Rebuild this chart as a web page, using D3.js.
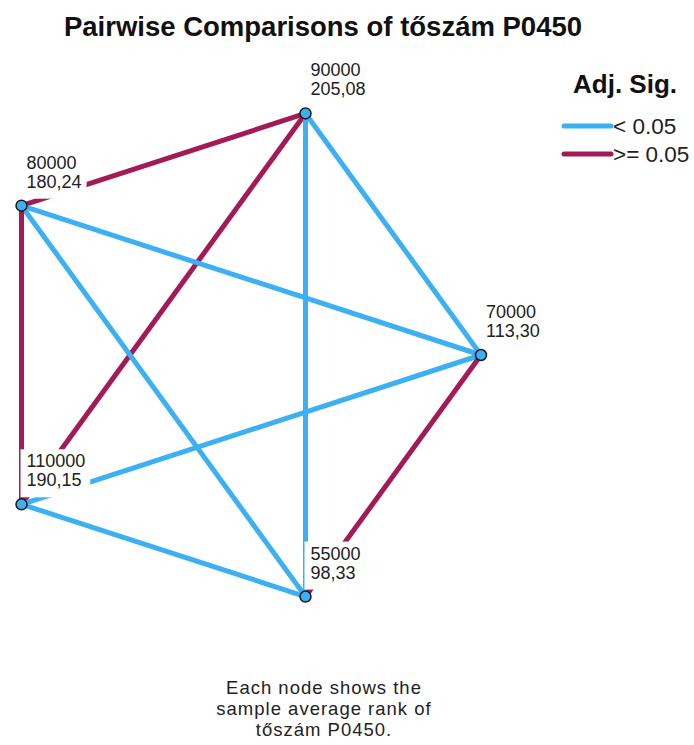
<!DOCTYPE html>
<html>
<head>
<meta charset="utf-8">
<script src="https://cdn.jsdelivr.net/npm/d3@7"></script>
<style>
  body { margin: 0; background: #fff; }
  svg { display: block; font-family: "Liberation Sans", Arial, sans-serif; }
</style>
</head>
<body>
<div id="chart"></div>
<script>
// nodes in drawing order around the pentagon, starting at the right, going counter-clockwise
const nodeNames = ["70000", "90000", "80000", "110000", "55000"];
const nodeRanks = ["113,30", "205,08", "180,24", "190,15", "98,33"];

// pairwise comparisons: [from, to, significant (adj. p < 0.05)]
const edgeFrom = ["80000", "90000", "90000", "90000", "80000", "80000", "80000", "110000", "110000", "70000"];
const edgeTo   = ["90000", "110000", "70000", "55000", "70000", "55000", "110000", "70000", "55000", "55000"];
const edgeSig  = [false, false, true, true, true, true, false, true, true, false];

const legendLabels = ["< 0.05", ">= 0.05"];
const footnote = ["Each node shows the", "sample average rank of", "tőszám P0450."];

const width = 694;
const height = 745;
const blue = "#3cb0f2";
const red = "#a31a55";

const svg = d3.select("#chart").append("svg")
  .attr("width", width)
  .attr("height", height);

// layout on the unit circle, mapped to pixels
const angle = d3.scaleLinear().domain([0, nodeNames.length]).range([0, 2 * Math.PI]);
const xScale = d3.scaleLinear().domain([-1, 1]).range([-27, 481]);
const yScale = d3.scaleLinear().domain([-1, 1]).range([609, 101]);

const nodes = nodeNames.map((name, i) => ({
  name,
  rank: nodeRanks[i],
  x: xScale(Math.cos(angle(i))),
  y: yScale(Math.sin(angle(i)))
}));
const byName = new Map(nodes.map((d) => [d.name, d]));

const edges = edgeFrom.map((f, i) => ({
  source: byName.get(f),
  target: byName.get(edgeTo[i]),
  sig: edgeSig[i]
}));

svg.append("text")
  .attr("x", 323)
  .attr("y", 36)
  .attr("text-anchor", "middle")
  .attr("font-size", 27.5)
  .attr("font-weight", "bold")
  .attr("fill", "#111")
  .text("Pairwise Comparisons of tőszám P0450");

svg.append("g").attr("class", "edges")
  .selectAll("line")
  .data(edges)
  .enter()
  .append("line")
  .attr("x1", (d) => d.source.x)
  .attr("y1", (d) => d.source.y)
  .attr("x2", (d) => d.target.x)
  .attr("y2", (d) => d.target.y)
  .attr("stroke", (d) => d.sig ? blue : red)
  .attr("stroke-width", 5);

// node labels with white boxes that hide the lines behind them
const labels = svg.append("g").attr("class", "labels")
  .selectAll("g")
  .data(nodes)
  .enter()
  .append("g")
  .attr("transform", (d) => `translate(${d.x}, ${d.y})`);

const boxes = labels.append("rect")
  .attr("fill", "#fff");

const labelText = labels.append("text")
  .attr("font-size", 18)
  .attr("fill", "#222");
labelText.append("tspan").attr("x", 5).attr("y", -37).text((d) => d.name);
labelText.append("tspan").attr("x", 5).attr("y", -18).text((d) => d.rank);

labelText.each(function (d) {
  d.bbox = this.getBBox();
});
boxes
  .attr("x", -1)
  .attr("y", (d) => d.bbox.y - 2)
  .attr("width", (d) => d.bbox.x + d.bbox.width + 6)
  .attr("height", (d) => -7 - (d.bbox.y - 2));

svg.append("g").attr("class", "nodes")
  .selectAll("circle")
  .data(nodes)
  .enter()
  .append("circle")
  .attr("cx", (d) => d.x)
  .attr("cy", (d) => d.y)
  .attr("r", 5.5)
  .attr("fill", blue)
  .attr("stroke", "#1a1a1a")
  .attr("stroke-width", 1.5);

// legend
const legend = svg.append("g").attr("transform", "translate(563, 0)");
legend.append("text")
  .attr("x", 10)
  .attr("y", 93)
  .attr("font-size", 26)
  .attr("font-weight", "bold")
  .attr("fill", "#111")
  .text("Adj. Sig.");

const items = legend.selectAll("g.item")
  .data(legendLabels)
  .enter()
  .append("g")
  .attr("class", "item")
  .attr("transform", (d, i) => `translate(0, ${126 + i * 28})`);
items.append("line")
  .attr("x1", 1)
  .attr("x2", 48)
  .attr("stroke", (d, i) => i === 0 ? blue : red)
  .attr("stroke-width", 5)
  .attr("stroke-linecap", "round");
items.append("text")
  .attr("x", 50)
  .attr("y", 8)
  .attr("font-size", 22.5)
  .attr("fill", "#222")
  .text((d) => d);

// footnote, one text per line
svg.append("g").attr("class", "footnote")
  .selectAll("text")
  .data(footnote)
  .enter()
  .append("text")
  .attr("x", 324)
  .attr("y", (d, i) => 694 + i * 21)
  .attr("text-anchor", "middle")
  .attr("font-size", 18.5)
  .attr("letter-spacing", 1)
  .attr("fill", "#222")
  .text((d) => d);
</script>
</body>
</html>
